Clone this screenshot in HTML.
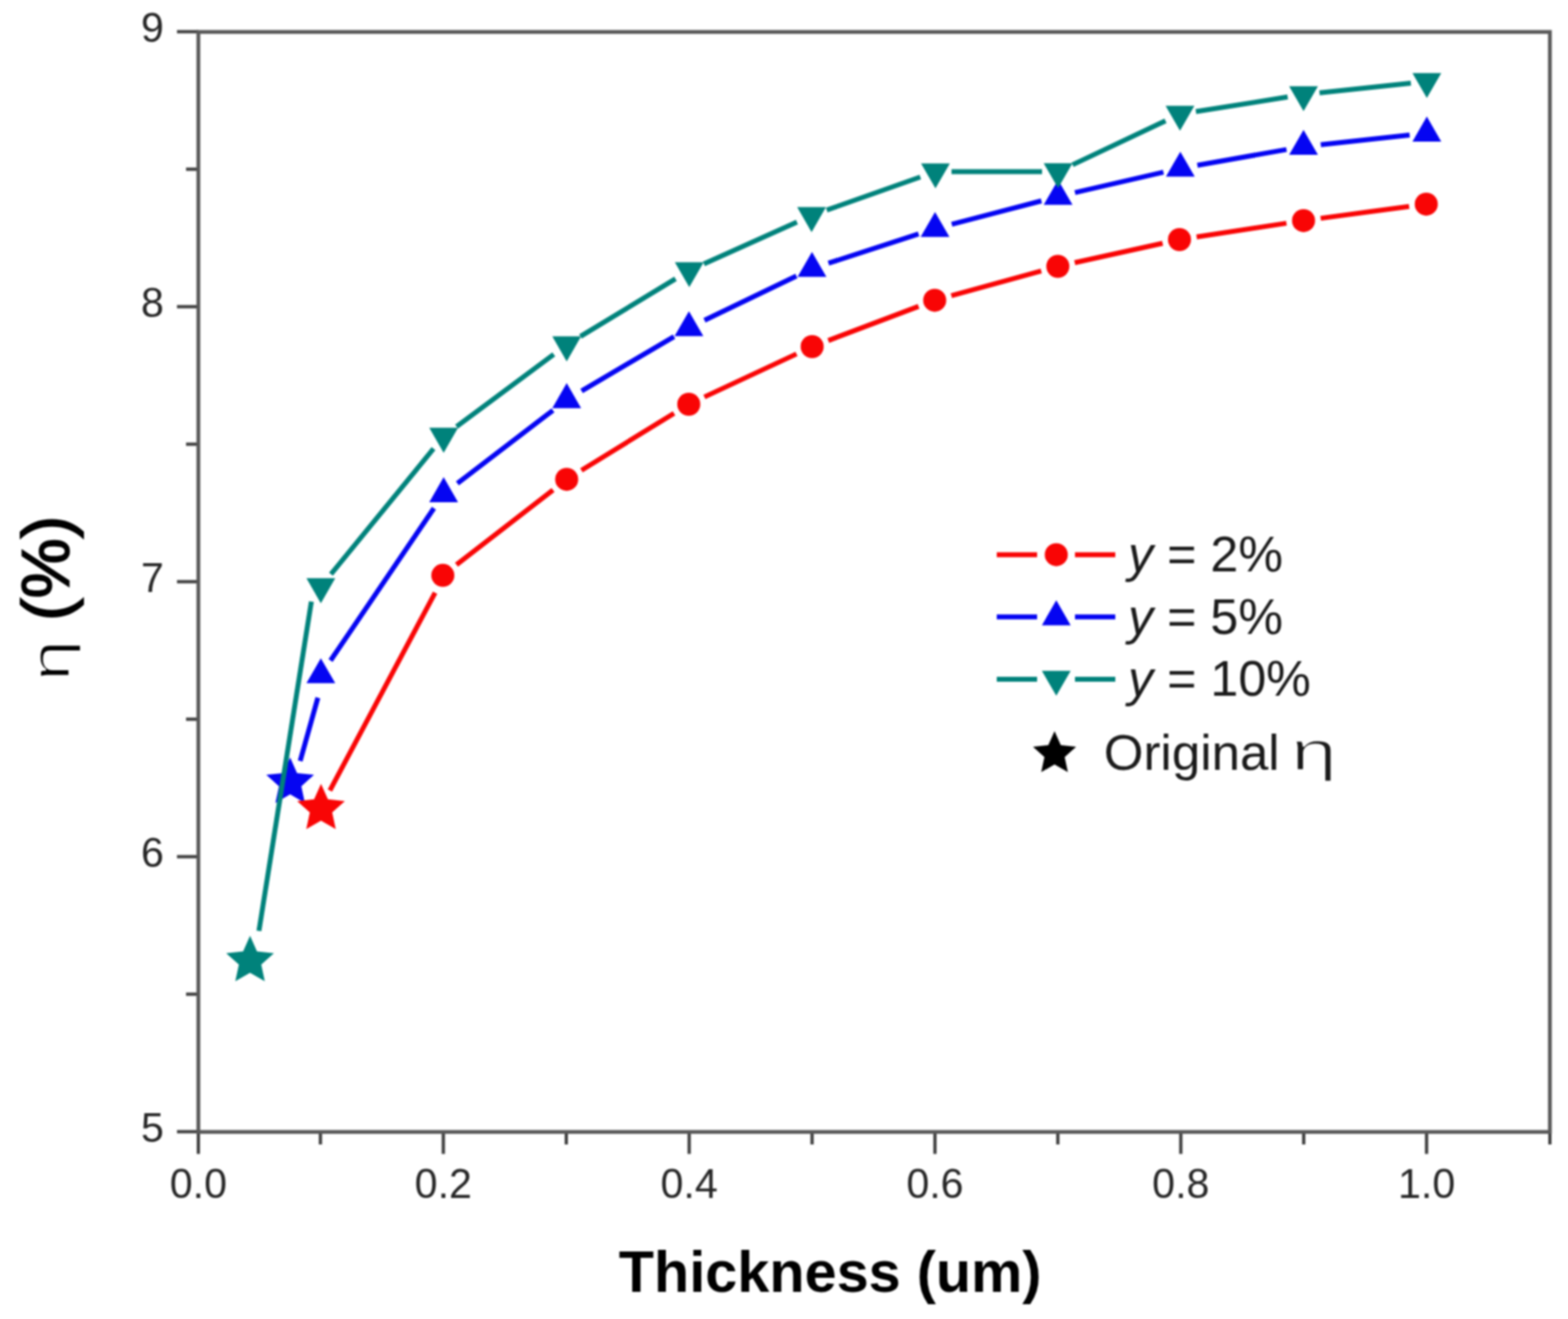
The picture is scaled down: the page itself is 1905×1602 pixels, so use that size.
<!DOCTYPE html><html><head><meta charset="utf-8"><title>Efficiency vs thickness</title>
<style>html,body{margin:0;padding:0;background:#fff;}body{width:1905px;height:1602px;overflow:hidden;}svg{display:block;filter:blur(1px);}text{font-family:"Liberation Sans",Arial,sans-serif;}</style></head><body>
<svg width="1905" height="1602" viewBox="0 0 1905 1602">
<rect width="1905" height="1602" fill="#fff"/>
<g stroke="#404040" stroke-width="4" fill="none" stroke-linecap="butt">
<line x1="215" y1="1374.5" x2="241" y2="1374.5"/>
<line x1="215" y1="1040.5" x2="241" y2="1040.5"/>
<line x1="215" y1="706.5" x2="241" y2="706.5"/>
<line x1="215" y1="372.5" x2="241" y2="372.5"/>
<line x1="215" y1="38.5" x2="241" y2="38.5"/>
<line x1="226" y1="1207.5" x2="241" y2="1207.5"/>
<line x1="226" y1="873.5" x2="241" y2="873.5"/>
<line x1="226" y1="539.5" x2="241" y2="539.5"/>
<line x1="226" y1="205.5" x2="241" y2="205.5"/>
<line x1="241" y1="1374.8" x2="241" y2="1401.5"/>
<line x1="389.3" y1="1374.8" x2="389.3" y2="1390"/>
<line x1="538.6" y1="1374.8" x2="538.6" y2="1401.5"/>
<line x1="688" y1="1374.8" x2="688" y2="1390"/>
<line x1="837.3" y1="1374.8" x2="837.3" y2="1401.5"/>
<line x1="986.6" y1="1374.8" x2="986.6" y2="1390"/>
<line x1="1135.9" y1="1374.8" x2="1135.9" y2="1401.5"/>
<line x1="1285.2" y1="1374.8" x2="1285.2" y2="1390"/>
<line x1="1434.6" y1="1374.8" x2="1434.6" y2="1401.5"/>
<line x1="1583.9" y1="1374.8" x2="1583.9" y2="1390"/>
<line x1="1733.2" y1="1374.8" x2="1733.2" y2="1401.5"/>
<line x1="1883" y1="1374.8" x2="1883" y2="1390"/>
</g>
<rect x="241" y="38.8" width="1642" height="1336.0" fill="none" stroke="#585858" stroke-width="4.6"/>
<g font-size="50" fill="#262626">
<text x="199" y="1386.5" text-anchor="end">5</text>
<text x="199" y="1052.5" text-anchor="end">6</text>
<text x="199" y="718.5" text-anchor="end">7</text>
<text x="199" y="384.5" text-anchor="end">8</text>
<text x="199" y="50.5" text-anchor="end">9</text>
<text x="241" y="1455" text-anchor="middle">0.0</text>
<text x="538.6" y="1455" text-anchor="middle">0.2</text>
<text x="837.3" y="1455" text-anchor="middle">0.4</text>
<text x="1135.9" y="1455" text-anchor="middle">0.6</text>
<text x="1434.6" y="1455" text-anchor="middle">0.8</text>
<text x="1733.2" y="1455" text-anchor="middle">1.0</text>
</g>
<text x="1008.6" y="1569" font-size="70" font-weight="bold" text-anchor="middle" fill="#000">Thickness (um)</text>
<text transform="translate(83.5,754) rotate(-90)" font-size="82" stroke="#000" stroke-width="2" fill="#000">(%)</text>
<text transform="translate(84,827) rotate(-90) scale(1.35,1)" font-size="66" fill="#000" stroke="#fff" stroke-width="1.6">&#951;</text>
<g stroke-width="6" fill="none" stroke-linecap="butt">
<g stroke="#f90505"><line x1="554.6" y1="685.9" x2="671.9" y2="595.1"/><line x1="706.4" y1="571.2" x2="818.9" y2="502"/><line x1="855.8" y1="482.1" x2="967.7" y2="429.9"/><line x1="1006.3" y1="413.6" x2="1116" y2="372.1"/><line x1="1155.8" y1="359.1" x2="1265" y2="329.1"/><line x1="1305.7" y1="319" x2="1412.5" y2="295.5"/><line x1="1453.8" y1="287.8" x2="1562.9" y2="271.1"/><line x1="1604.5" y1="265.1" x2="1712" y2="250.7"/></g>
<g stroke="#0505f2"><line x1="401.6" y1="802.3" x2="527.2" y2="617.2"/><line x1="555.7" y1="587.1" x2="671.8" y2="498.3"/><line x1="706.6" y1="474.9" x2="818.9" y2="408.8"/><line x1="855.9" y1="389" x2="967.6" y2="335.3"/><line x1="1006.5" y1="319.7" x2="1116" y2="284.2"/><line x1="1156.3" y1="272.4" x2="1265.2" y2="244"/><line x1="1306" y1="233.9" x2="1413.5" y2="209.2"/><line x1="1454.7" y1="200.8" x2="1563" y2="181.6"/><line x1="1604.6" y1="175.7" x2="1712.6" y2="164.1"/></g>
<g stroke="#00827b"><line x1="402.1" y1="697.3" x2="526.7" y2="544.9"/><line x1="554.7" y1="518.1" x2="672.8" y2="430.3"/><line x1="705.2" y1="408.6" x2="820.7" y2="338.6"/><line x1="855.2" y1="320.6" x2="968.2" y2="269.7"/><line x1="1004.4" y1="255.2" x2="1118.1" y2="215"/><line x1="1156" y1="208.5" x2="1266" y2="208.4"/><line x1="1303.1" y1="200.1" x2="1416" y2="146.8"/><line x1="1452.9" y1="135.5" x2="1564.4" y2="117.8"/><line x1="1603.1" y1="112.7" x2="1714.1" y2="100.9"/></g>
<line stroke="#f90505" x1="400.8" y1="960.2" x2="528.6" y2="719.9"/>
<line stroke="#0505f2" x1="364.7" y1="924.2" x2="386.2" y2="847.4"/>
</g>
<g fill="#f90505"><circle cx="538" cy="698.8" r="14.0"/><circle cx="688.5" cy="582.2" r="14.0"/><circle cx="836.8" cy="491" r="14.0"/><circle cx="986.7" cy="421" r="14.0"/><circle cx="1135.6" cy="364.7" r="14.0"/><circle cx="1285.2" cy="323.5" r="14.0"/><circle cx="1433" cy="291" r="14.0"/><circle cx="1583.7" cy="267.9" r="14.0"/><circle cx="1732.8" cy="247.9" r="14.0"/></g>
<g fill="#0505f2"><polygon points="389.8,799.4 407.3,829.8 372.3,829.8"/><polygon points="539,579.6 556.5,609.9 521.5,609.9"/><polygon points="688.5,465.3 706,495.7 671,495.7"/><polygon points="837,377.9 854.5,408.2 819.5,408.2"/><polygon points="986.5,305.9 1004,336.3 969,336.3"/><polygon points="1136,257.5 1153.5,287.8 1118.5,287.8"/><polygon points="1285.5,218.4 1303,248.8 1268,248.8"/><polygon points="1434,184.2 1451.5,214.6 1416.5,214.6"/><polygon points="1583.7,157.7 1601.2,188 1566.2,188"/><polygon points="1733.5,141.6 1751,172 1716,172"/></g>
<g fill="#00827b"><polygon points="372.3,702.3 407.3,702.3 389.8,732.7"/><polygon points="521.5,519.6 556.5,519.6 539,550"/><polygon points="671,408.6 706,408.6 688.5,438.9"/><polygon points="819.9,318.4 854.9,318.4 837.4,348.8"/><polygon points="968.5,251.6 1003.5,251.6 986,282"/><polygon points="1119,198.4 1154,198.4 1136.5,228.8"/><polygon points="1268,198.3 1303,198.3 1285.5,228.6"/><polygon points="1416.1,128.4 1451.1,128.4 1433.6,158.7"/><polygon points="1566.2,104.7 1601.2,104.7 1583.7,135"/><polygon points="1716,88.7 1751,88.7 1733.5,119"/></g>
<polygon fill="#0505f2" points="352.5,920 360.9,938.9 381.5,941.1 366.1,954.9 370.4,975.2 352.5,964.8 334.6,975.2 338.9,954.9 323.5,941.1 344.1,938.9"/>
<line stroke="#00827b" stroke-width="6" x1="314.6" y1="1130.6" x2="378.3" y2="730.6"/>
<polygon fill="#f90505" points="390,951.9 398.4,970.8 419,973 403.6,986.8 407.9,1007.1 390,996.7 372.1,1007.1 376.4,986.8 361,973 381.6,970.8"/>
<polygon fill="#00827b" points="303.8,1136.6 312.2,1155.5 332.8,1157.7 317.4,1171.5 321.7,1191.8 303.8,1181.4 285.9,1191.8 290.2,1171.5 274.8,1157.7 295.4,1155.5"/>
<g stroke-width="6">
<line stroke="#f90505" x1="1211" y1="673.7" x2="1260" y2="673.7"/>
<line stroke="#f90505" x1="1306" y1="673.7" x2="1355" y2="673.7"/>
<line stroke="#0505f2" x1="1211" y1="749.3" x2="1260" y2="749.3"/>
<line stroke="#0505f2" x1="1306" y1="749.3" x2="1355" y2="749.3"/>
<line stroke="#00827b" x1="1211" y1="824.9" x2="1260" y2="824.9"/>
<line stroke="#00827b" x1="1306" y1="824.9" x2="1355" y2="824.9"/>
</g>
<circle cx="1283.3" cy="673.7" r="14.0" fill="#f90505"/>
<polygon fill="#0505f2" points="1283.3,729.1 1300.8,759.4 1265.8,759.4"/>
<polygon fill="#00827b" points="1265.8,814.8 1300.8,814.8 1283.3,845.1"/>
<g font-size="61" fill="#1a1a1a">
<text x="1370.5" y="694.2"><tspan font-style="italic">y</tspan> = 2%</text>
<text x="1370.5" y="769.8"><tspan font-style="italic">y</tspan> = 5%</text>
<text x="1370.5" y="845.4"><tspan font-style="italic">y</tspan> = 10%</text>
</g>
<polygon fill="#000" points="1281.2,888.1 1288.8,905.1 1307.4,907.1 1293.5,919.6 1297.4,937.8 1281.2,928.5 1265,937.8 1268.9,919.6 1255,907.1 1273.6,905.1"/>
<text x="1341" y="934.7" font-size="62" fill="#1a1a1a">Original</text>
<text transform="translate(1568.5,934.7) scale(1.52,1)" font-size="66" fill="#1a1a1a" stroke="#fff" stroke-width="1.6">&#951;</text>
</svg></body></html>
